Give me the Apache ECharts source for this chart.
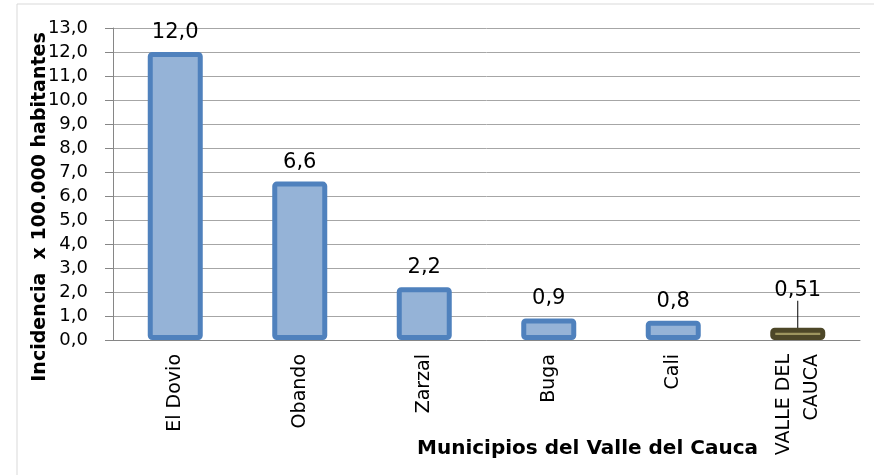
<!DOCTYPE html>
<html>
<head>
<meta charset="utf-8">
<script src="https://cdn.jsdelivr.net/npm/echarts@6/dist/echarts.min.js"></script>
<style>
  html, body { margin: 0; padding: 0; background: #fff; }
  #main { width: 874px; height: 475px; }
</style>
</head>
<body>
<div id="main"></div>
<script>
var municipios = ['El Dovio', 'Obando', 'Zarzal', 'Buga', 'Cali', 'VALLE DEL\nCAUCA'];
var incidencia = [12.0, 6.6, 2.2, 0.9, 0.8, 0.51];
var etiquetas = ['12,0', '6,6', '2,2', '0,9', '0,8', '0,51'];

var myChart = echarts.init(document.getElementById('main'));

var fuente = 'DejaVu Sans';
var ultimo = incidencia.length - 1;

var datos = incidencia.map(function (v, i) {
    var item = { value: v };
    if (i === ultimo) {
        // total del departamento en otro color, etiqueta con linea guia
        item.itemStyle = { color: '#9d955f', borderColor: '#4d4728' };
        item.labelLine = { show: true, lineStyle: { color: '#000', width: 1 } };
    }
    return item;
});

option = {
    animation: false,
    graphic: [{
        type: 'rect',
        shape: { x: 17, y: 4, width: 870, height: 480 },
        style: { fill: 'none', stroke: '#d9d9d9', lineWidth: 1 }
    }],
    grid: { left: 113, right: 14, top: 28, bottom: 135, containLabel: false, outerBoundsMode: 'none' },
    xAxis: {
        type: 'category',
        data: municipios,
        name: 'Municipios del Valle del Cauca',
        nameLocation: 'middle',
        nameGap: 99,
        nameMoveOverlap: false,
        nameTextStyle: { fontFamily: fuente, fontWeight: 'bold', fontSize: 20, color: '#000', padding: [0, 0, 0, 202] },
        axisLine: { lineStyle: { color: '#868686' } },
        axisTick: { show: false },
        axisLabel: { rotate: 90, fontFamily: fuente, fontSize: 19, color: '#000', margin: 14, lineHeight: 28 }
    },
    yAxis: {
        type: 'value',
        min: 0,
        max: 13,
        interval: 1,
        name: 'Incidencia  x 100.000 habitantes',
        nameLocation: 'middle',
        nameGap: 63,
        nameMoveOverlap: false,
        nameTextStyle: { fontFamily: fuente, fontWeight: 'bold', fontSize: 19, color: '#000', padding: [0, 46, 0, 0] },
        axisLine: { show: true, lineStyle: { color: '#868686' } },
        axisTick: { show: true, length: 8, lineStyle: { color: '#868686' } },
        splitLine: { lineStyle: { color: '#a6a6a6' } },
        axisLabel: {
            fontFamily: fuente, fontSize: 18, color: '#000', margin: 25,
            formatter: function (v) { return v.toFixed(1).replace('.', ','); }
        }
    },
    series: [{
        type: 'bar',
        data: datos,
        barWidth: 55,
        itemStyle: { color: '#95b3d7', borderColor: '#4f81bd', borderWidth: 5, borderRadius: 2 },
        label: {
            show: true,
            position: 'top',
            distance: 9,
            fontFamily: fuente,
            fontSize: 21,
            color: '#000',
            formatter: function (p) { return etiquetas[p.dataIndex]; }
        },
        labelLayout: function (p) {
            return p.dataIndex === ultimo ? { dy: -18 } : {};
        },
        labelLine: { show: false }
    }]
};

myChart.setOption(option);
</script>
</body>
</html>
